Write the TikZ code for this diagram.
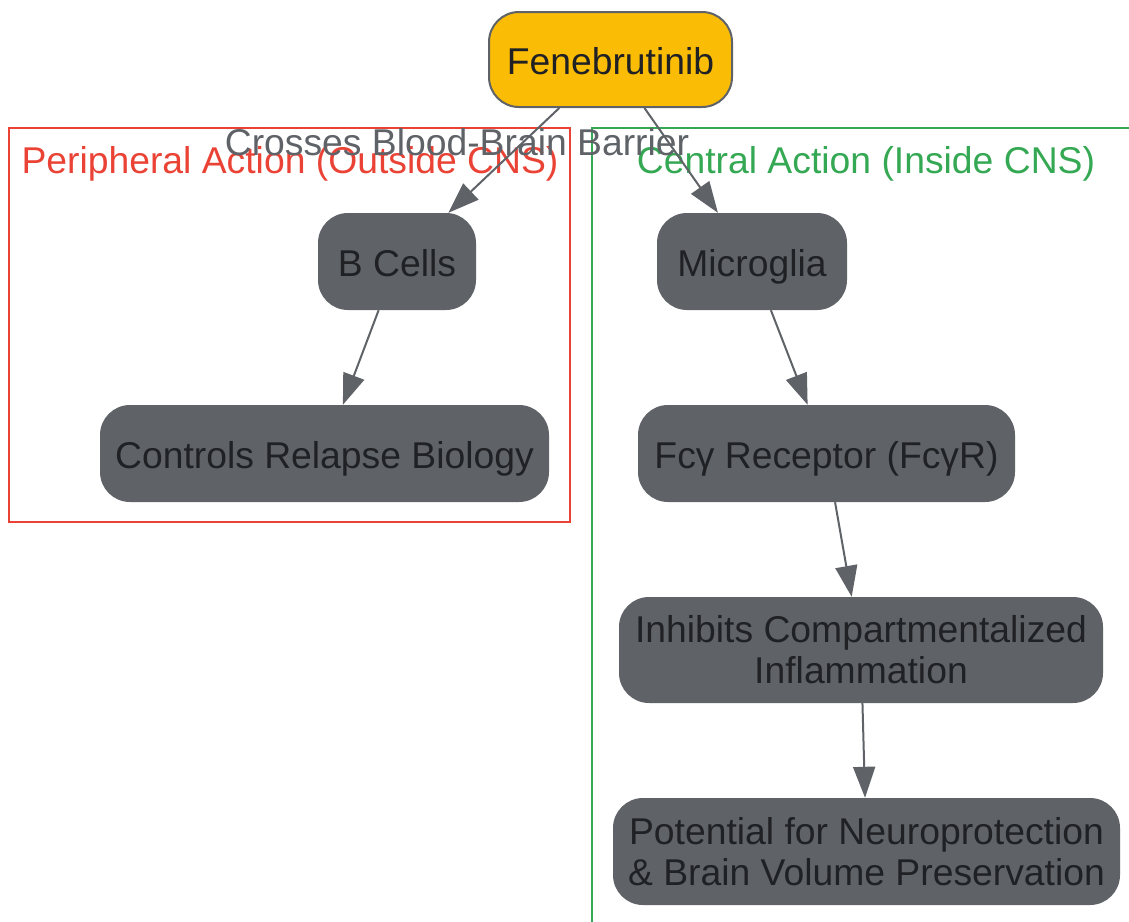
\documentclass[tikz,border=0pt]{standalone}
\usepackage{fontspec}
\setmainfont{Liberation Sans}
\usetikzlibrary{arrows.meta}
\definecolor{drugyellow}{HTML}{FBBC05}
\definecolor{nodegray}{HTML}{5F6368}
\definecolor{inktext}{HTML}{202124}
\definecolor{periphred}{HTML}{EA4335}
\definecolor{centralgreen}{HTML}{34A853}
\tikzset{
  box/.style={rectangle,rounded corners=30pt,fill=nodegray,text=inktext,align=center,
    minimum height=97pt,inner sep=0pt,font=\fontsize{37.3}{41}\selectfont},
  oneline/.style={text height=34pt,text depth=5pt},
  link/.style={draw=nodegray,line width=2pt,-{Triangle[length=31pt,width=22pt]}},
  clusterlabel/.style={font=\fontsize{37.3}{41}\selectfont,inner sep=0pt}
}
\begin{document}
\begin{tikzpicture}[x=1pt,y=-1pt]
            \useasboundingbox (0,0) rectangle (1129,921);
            \clip (0,0) rectangle (1129,921);

            % clusters
            \draw[periphred,line width=2pt] (9,128) rectangle (570,522);
            \draw[centralgreen,line width=2pt] (592,128) rectangle (1140,940);
            \node[clusterlabel,text=periphred] (periphlabel) at (290,164) {Peripheral Action (Outside CNS)};
            \node[clusterlabel,text=centralgreen] (centrallabel) at (866,164) {Central Action (Inside CNS)};

            \node[box,oneline,fill=drugyellow,draw=nodegray,line width=2pt,minimum width=243pt,minimum height=95pt] (fen) at (610.5,59.5) {Fenebrutinib};
            \node[box,oneline,minimum width=158pt] (bcells) at (397,261.5) {B Cells};
            \node[box,oneline,minimum width=190pt] (micro) at (752,261.5) {Microglia};
            \node[box,oneline,minimum width=449pt] (relapse) at (324.5,453.5) {Controls Relapse Biology};
            \node[box,oneline,minimum width=377pt] (fcr) at (826.5,453.5) {Fcγ Receptor (FcγR)};
            \node[box,minimum width=484pt,minimum height=106pt] (inhib) at (861,650) {Inhibits Compartmentalized\\ Inflammation};
            \node[box,minimum width=507pt,minimum height=107pt] (neuro) at (866.5,851.5) {Potential for Neuroprotection\\ \& Brain Volume Preservation};

            \draw[link] (fen) -- (bcells);
            \draw[link] (fen) -- (micro);
            \draw[link] (bcells) -- (relapse);
            \draw[link] (micro) -- (fcr);
            \draw[link] (fcr) -- (inhib);
            \draw[link] (inhib) -- (neuro);

            \node[clusterlabel,text=nodegray] (bbb) at (457,142) {Crosses Blood-Brain Barrier};
        \end{tikzpicture}
\end{document}
